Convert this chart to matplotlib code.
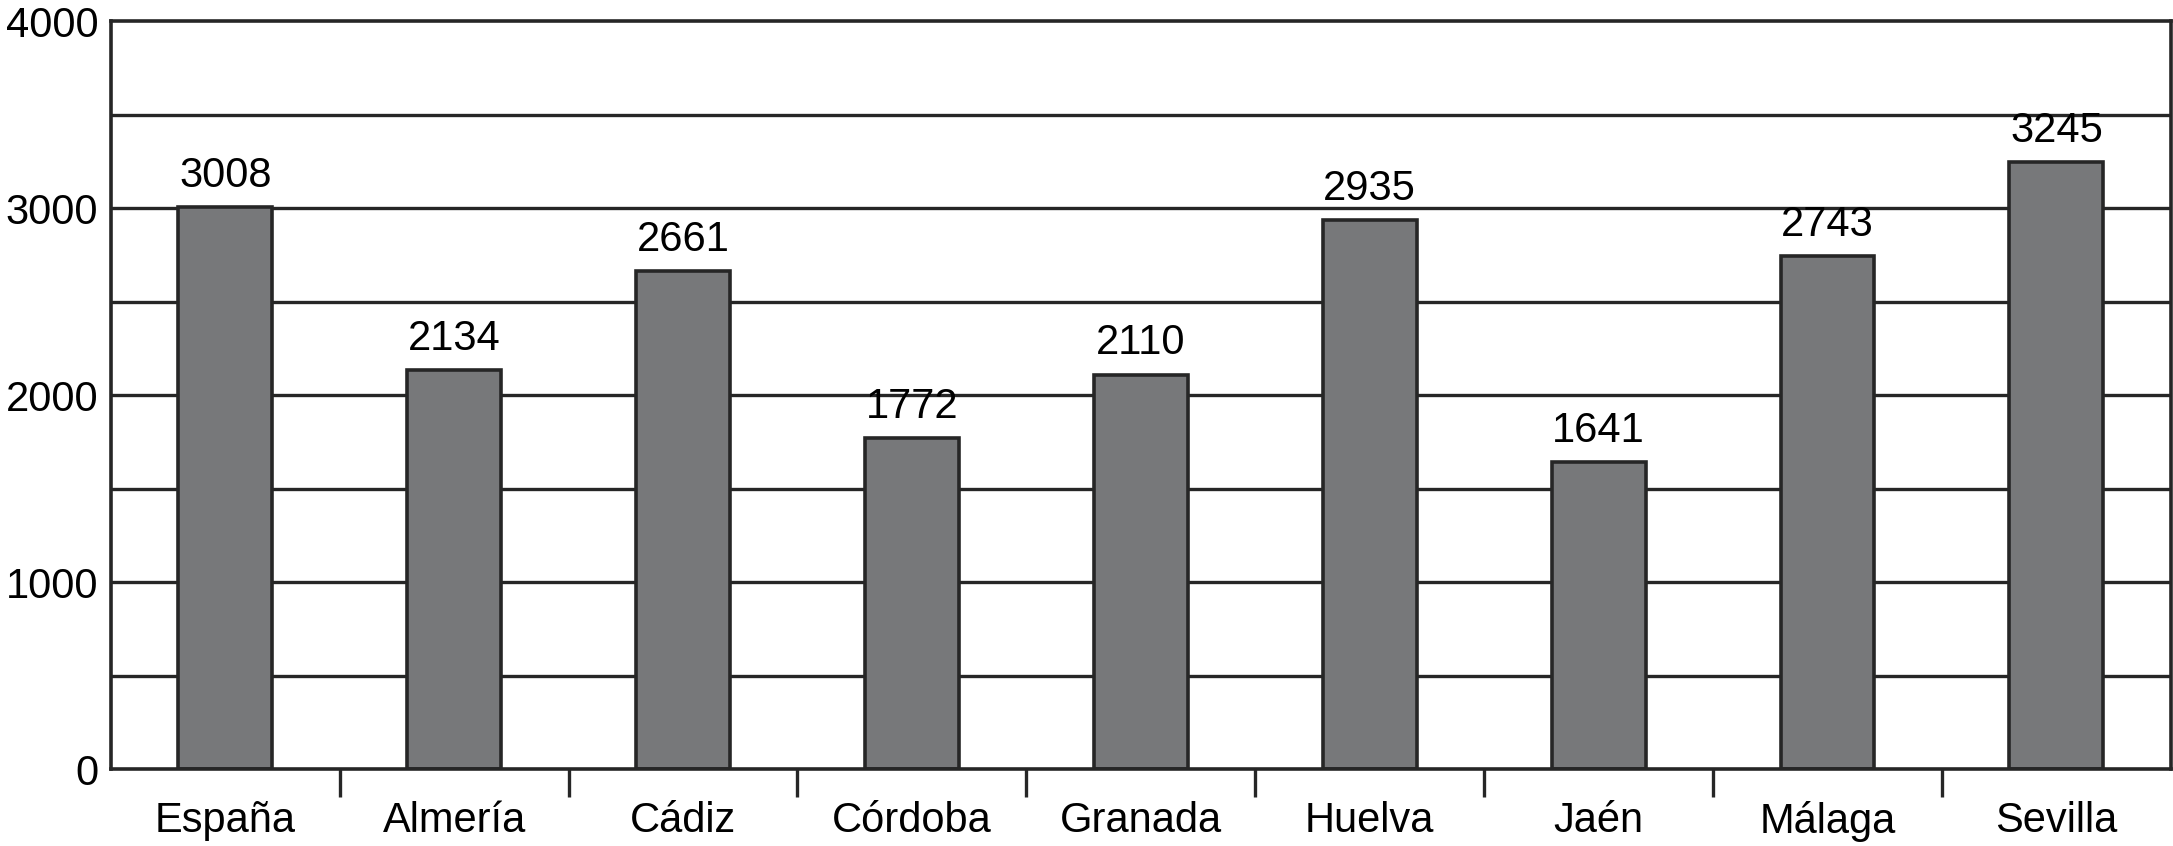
import numpy as np
import matplotlib.pyplot as plt

# data
provincias = ['España', 'Almería', 'Cádiz', 'Córdoba', 'Granada', 'Huelva', 'Jaén', 'Málaga', 'Sevilla']
valores = [3008, 2134, 2661, 1772, 2110, 2935, 1641, 2743, 3245]
yticks = [0, 1000, 2000, 3000, 4000]

plt.rcParams['font.family'] = ['Liberation Sans', 'DejaVu Sans']

fig = plt.figure(figsize=(21.73, 8.46), dpi=100)
ax = fig.add_axes([0.051, 0.091, 0.948, 0.884])

linec = '#262626'
x = np.arange(len(provincias))

# grid every 500
for g in np.arange(500, 4000, 500):
    ax.axhline(g, color=linec, lw=2.4, zorder=1)

ax.bar(x, valores, width=0.41, color='#77787a', edgecolor=linec, linewidth=2.6, zorder=2)

for xi, v in zip(x, valores):
    ax.annotate(str(v), (xi, v), xytext=(0, 8), textcoords='offset points',
                ha='center', va='bottom', fontsize=30, color='black')

ax.set_xlim(-0.5, len(provincias) - 0.5)
ax.set_ylim(0, 4000)
ax.set_yticks(yticks)
ax.set_yticklabels([str(t) for t in yticks], fontsize=30)
ax.tick_params(axis='y', length=0, pad=9)

# ticks between categories, labels at centres
ax.set_xticks(np.arange(0.5, len(provincias) - 1, 1.0))
ax.set_xticklabels([])
ax.tick_params(axis='x', which='major', length=20, width=2.4, color=linec, direction='out')
ax.set_xticks(x, minor=True)
ax.set_xticklabels(provincias, minor=True, fontsize=30)
ax.tick_params(axis='x', which='minor', length=0, pad=23)

for s in ax.spines.values():
    s.set_color(linec)
    s.set_linewidth(2.6)

fig.savefig('out.png', dpi=100)
